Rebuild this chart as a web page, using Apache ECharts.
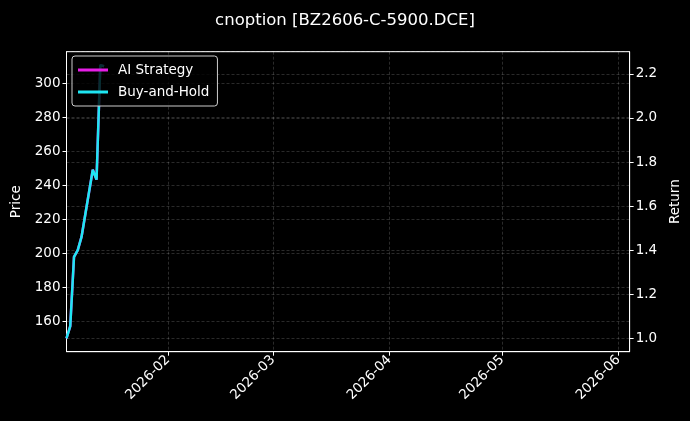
<!DOCTYPE html>
<html>
<head>
<meta charset="utf-8">
<script src="https://cdn.jsdelivr.net/npm/echarts@6/dist/echarts.min.js"></script>
<style>
  html, body { margin: 0; padding: 0; background: #000; }
  #chart { width: 690px; height: 421px; }
</style>
</head>
<body>
<div id="chart"></div>
<script>
// 数据
var titleText = 'cnoption [BZ2606-C-5900.DCE]';
var dates = ['2026-01-05','2026-01-06','2026-01-07','2026-01-08','2026-01-09',
             '2026-01-12','2026-01-13','2026-01-14','2026-01-15'];
var aiReturn = [1.00, 1.055, 1.37, 1.40, 1.46, 1.765, 1.72, 2.24, 2.235];
var bhReturn = [1.00, 1.055, 1.37, 1.40, 1.46, 1.765, 1.72, 2.24, 2.235];
var monthTicks = ['2026-02-01','2026-03-01','2026-04-01','2026-05-01','2026-06-01'];
var xRange = ['2026-01-05','2026-06-04'];
var priceRange = [142.4, 318.6];
var returnRange = [0.939, 2.301];

function ts(d) { return new Date(d + 'T00:00:00').getTime(); }
function pairs(vals) {
    var out = [];
    for (var i = 0; i < dates.length; i++) {
        out.push([ts(dates[i]), vals[i]]);
    }
    return out;
}
var monthTs = monthTicks.map(ts);

var font = 'DejaVu Sans';
var fs = 13.5;
var gridLine = { show: true, lineStyle: { color: 'rgba(255,255,255,0.28)', type: [3, 2], width: 0.6 } };

var chart = echarts.init(document.getElementById('chart'));
var option = {
    backgroundColor: '#000',
    animation: false,
    textStyle: { fontFamily: font },
    title: {
        text: titleText,
        left: 'center',
        top: 7,
        textStyle: { color: '#fff', fontSize: 16.5, fontWeight: 'normal', fontFamily: font }
    },
    legend: {
        orient: 'vertical',
        left: 72,
        top: 56,
        padding: [7, 8, 7, 6],
        itemGap: 8,
        itemWidth: 30,
        itemHeight: 3,
        icon: 'rect',
        backgroundColor: 'rgba(0,0,0,0.8)',
        borderColor: '#cccccc',
        borderWidth: 1,
        borderRadius: 3,
        textStyle: { color: '#fff', fontSize: fs, fontFamily: font, padding: [0, 0, 0, 5] },
        data: ['AI Strategy', 'Buy-and-Hold']
    },
    grid: {
        left: 66.5,
        right: 60,
        top: 51.7,
        bottom: 69.3,
        show: true,
        borderColor: '#fff',
        borderWidth: 1
    },
    xAxis: {
        type: 'value',
        min: ts(xRange[0]),
        max: ts(xRange[1]),
        axisLine: { show: true, onZero: false, lineStyle: { color: '#fff' } },
        axisTick: { show: true, customValues: monthTs, length: 4, lineStyle: { color: '#fff' } },
        axisLabel: {
            customValues: monthTs,
            rotate: 45,
            color: '#fff',
            fontSize: fs,
            fontFamily: font,
            margin: 6,
            formatter: function (v) {
                var d = new Date(v);
                var m = d.getMonth() + 1;
                return d.getFullYear() + '-' + (m < 10 ? '0' + m : m);
            }
        },
        splitLine: gridLine
    },
    yAxis: [
        {
            type: 'value',
            name: 'Price',
            nameLocation: 'middle',
            nameRotate: 90,
            nameGap: 43,
            nameTextStyle: { color: '#fff', fontSize: fs, fontFamily: font },
            min: priceRange[0],
            max: priceRange[1],
            minInterval: 20,
            maxInterval: 20,
            axisLine: { show: true, lineStyle: { color: '#fff' } },
            axisTick: { show: true, length: 4, lineStyle: { color: '#fff' } },
            axisLabel: {
                color: '#fff', fontSize: fs, fontFamily: font, margin: 6,
                showMinLabel: false, showMaxLabel: false,
                formatter: function (v) {
                    return Math.abs(v / 20 - Math.round(v / 20)) < 1e-6 ? String(Math.round(v)) : '';
                }
            },
            splitLine: gridLine
        },
        {
            type: 'value',
            name: 'Return',
            position: 'right',
            nameLocation: 'middle',
            nameRotate: 90,
            nameGap: 36,
            nameTextStyle: { color: '#fff', fontSize: fs, fontFamily: font },
            min: returnRange[0],
            max: returnRange[1],
            minInterval: 0.2,
            maxInterval: 0.2,
            axisLine: { show: true, lineStyle: { color: '#fff' } },
            axisTick: { show: true, length: 4, lineStyle: { color: '#fff' } },
            axisLabel: {
                color: '#fff', fontSize: fs, fontFamily: font, margin: 6,
                showMinLabel: false, showMaxLabel: false,
                formatter: function (v) {
                    return Math.abs(v / 0.2 - Math.round(v / 0.2)) < 1e-6 ? v.toFixed(1) : '';
                }
            },
            splitLine: gridLine
        }
    ],
    series: [
        {
            name: 'AI Strategy',
            type: 'line',
            yAxisIndex: 1,
            symbol: 'none',
            data: pairs(aiReturn),
            itemStyle: { color: '#e61ee6' },
            lineStyle: { color: '#e61ee6', width: 2.5 }
        },
        {
            name: 'Buy-and-Hold',
            type: 'line',
            yAxisIndex: 1,
            symbol: 'none',
            data: pairs(bhReturn),
            itemStyle: { color: '#1ee6f2' },
            lineStyle: { color: '#1ee6f2', width: 2.5 }
        }
    ]
};
chart.setOption(option);
</script>
</body>
</html>
